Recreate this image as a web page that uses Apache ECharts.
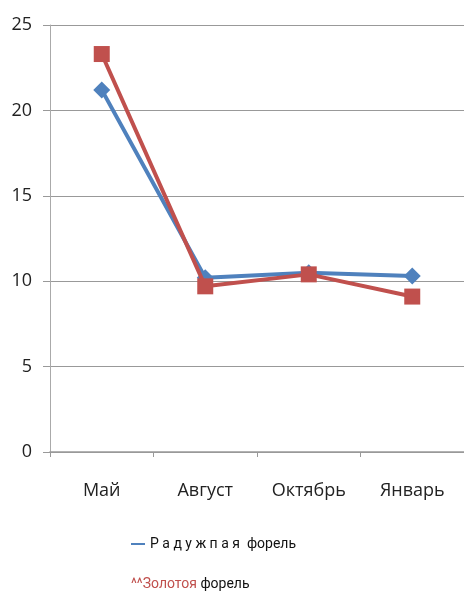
<!DOCTYPE html>
<html>
<head>
<meta charset="utf-8">
<script src="https://cdn.jsdelivr.net/npm/echarts@6/dist/echarts.min.js"></script>
<style>html,body{margin:0;padding:0;background:#fff}#c{width:464px;height:592px}</style>
</head>
<body>
<div id="c"></div>
<script>
var categories = ['Май', 'Август', 'Октябрь', 'Январь'];
var rainbowName = 'Р а д у ж п а я  форель';
var goldenName = 'Золотоя форель';
var rainbowValues = [21.2, 10.2, 10.5, 10.3];
var goldenValues = [23.3, 9.7, 10.4, 9.1];
var yTicks = [0, 5, 10, 15, 20, 25];

var FONT = '"Open Sans", sans-serif';
var LFONT = 'Roboto, "Open Sans", sans-serif';
var chart = echarts.init(document.getElementById('c'));
chart.setOption({
  animation: false,
  backgroundColor: '#fff',
  grid: { left: 50, right: -2, top: 25, bottom: 140, containLabel: false },
  legend: [
    {
      data: [rainbowName],
      left: 126, top: 532,
      itemWidth: 14, itemHeight: 2, itemGap: 0,
      icon: 'rect',
      textStyle: { fontFamily: LFONT, fontSize: 14, color: '#111' }
    },
    {
      data: [goldenName],
      left: 121, top: 572,
      itemWidth: 0, itemHeight: 0,
      icon: 'rect',
      formatter: function (n) { return '{r|^^Золотоя} {k|форель}'; },
      textStyle: {
        fontFamily: LFONT, fontSize: 14,
        rich: {
          r: { fontFamily: LFONT, fontSize: 14, color: '#c0504d' },
          k: { fontFamily: LFONT, fontSize: 14, color: '#111' }
        }
      }
    }
  ],
  xAxis: {
    type: 'category',
    data: categories,
    boundaryGap: true,
    axisLine: { lineStyle: { color: '#999', width: 1.5 } },
    axisTick: { show: true, length: 5, lineStyle: { color: '#999' } },
    axisLabel: { margin: 30, fontFamily: FONT, fontSize: 18, color: '#222' }
  },
  yAxis: {
    type: 'value',
    min: 0, max: 25, interval: 5,
    axisLine: { show: true, lineStyle: { color: '#aaa' } },
    axisTick: { show: true, length: 7, inside: false, lineStyle: { color: '#999' } },
    splitLine: { lineStyle: { color: '#999', width: 1.2 } },
    axisLabel: {
      margin: 18, fontFamily: FONT, fontSize: 18, color: '#222',
      formatter: function (v) { return yTicks.indexOf(v) >= 0 ? String(v) : ''; }
    }
  },
  series: [
    {
      name: rainbowName,
      type: 'line',
      data: rainbowValues,
      symbol: 'diamond',
      symbolSize: 17,
      lineStyle: { width: 4, color: '#4f81bd' },
      itemStyle: { color: '#4f81bd' },
      z: 2
    },
    {
      name: goldenName,
      type: 'line',
      data: goldenValues,
      symbol: 'rect',
      symbolSize: 16,
      lineStyle: { width: 4, color: '#c0504d' },
      itemStyle: { color: '#c0504d' },
      z: 3
    }
  ]
});
</script>
</body>
</html>
